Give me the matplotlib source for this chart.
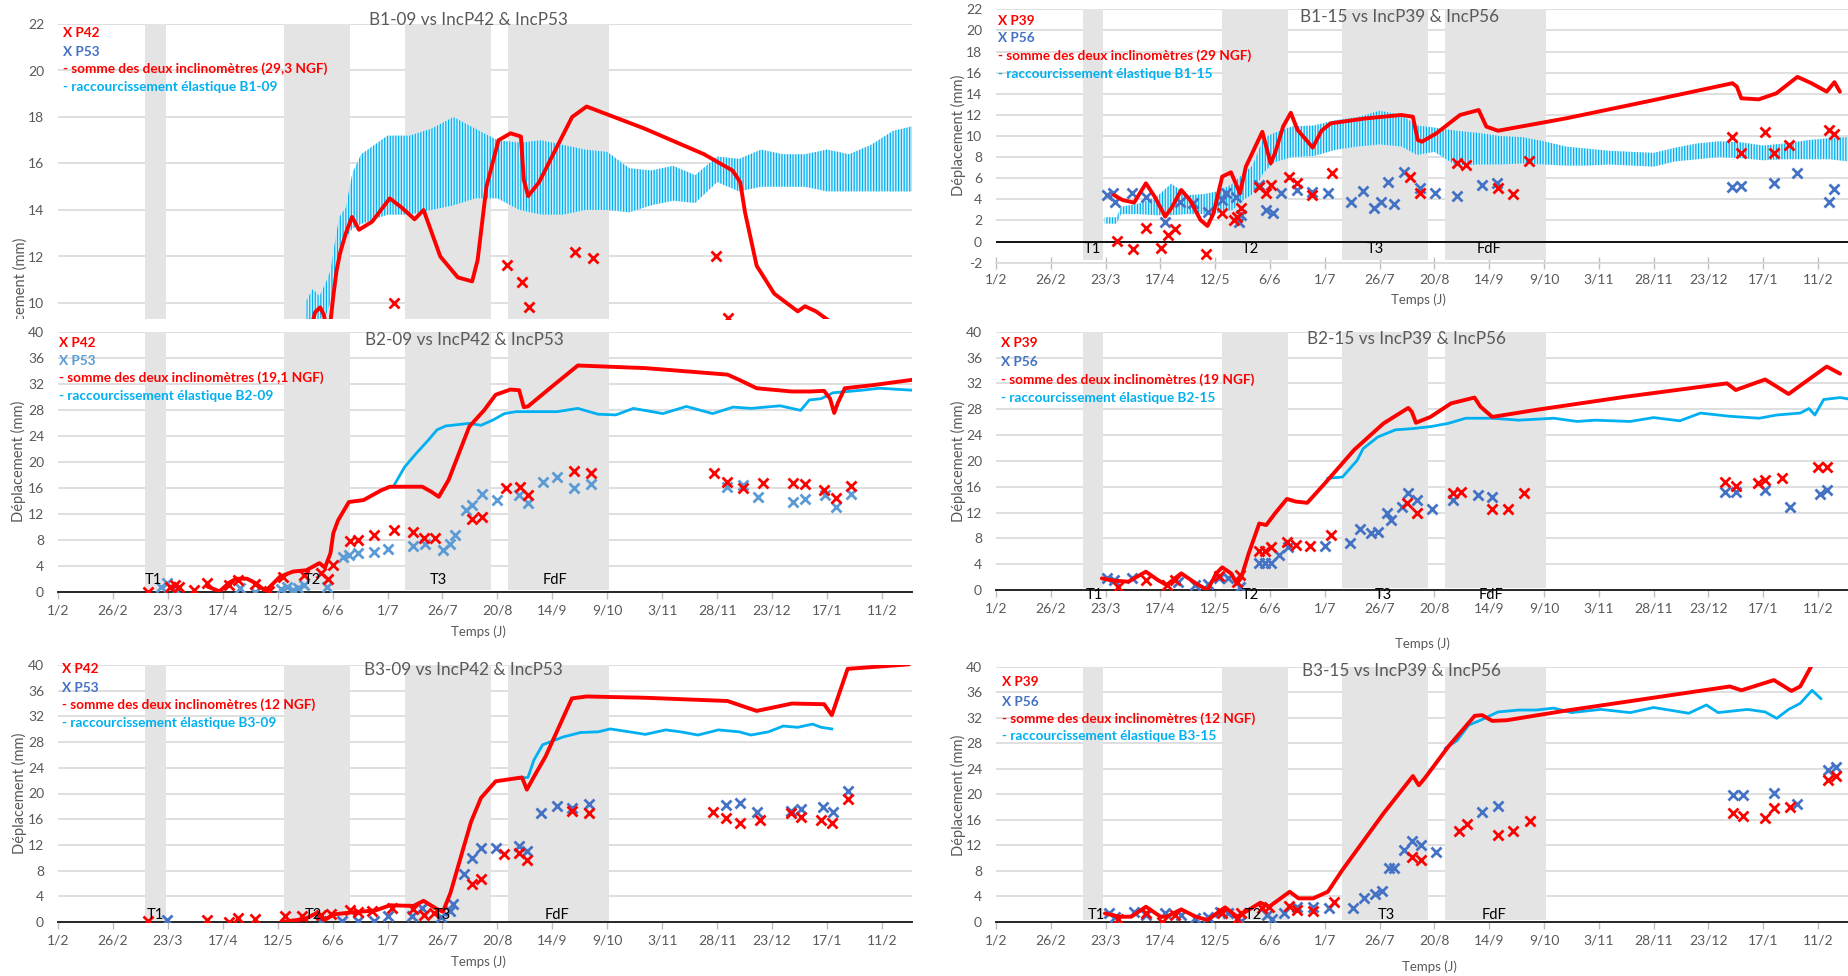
import numpy as np
import matplotlib
matplotlib.use('Agg')
import matplotlib.pyplot as plt
from matplotlib.transforms import Bbox

plt.rcParams['font.family'] = ['Lato', 'DejaVu Sans']
plt.rcParams['hatch.linewidth'] = 0.9

W, H = 1848, 976
fig = plt.figure(figsize=(W / 100, H / 100), dpi=100)

# ---------------- common axis data ----------------
DATE_TICKS = list(range(0, 376, 25))
DATE_LABELS = ['1/2', '26/2', '23/3', '17/4', '12/5', '6/6', '1/7', '26/7', '20/8',
               '14/9', '9/10', '3/11', '28/11', '23/12', '17/1', '11/2']
PERIODS = [(39.5, 49.0), (103.0, 133.0), (158.0, 197.0), (205.0, 251.0)]
PERIOD_NAMES = ['T1', 'T2', 'T3', 'FdF']

# ---------------- B1-09 ----------------
B1_09_SUM_DAY = [115.2, 117, 119.3, 121, 122.3, 123.8, 125.3, 126.8, 128.4, 131, 133.8, 137, 143, 151,
                 156.5, 162.3, 166.4, 174, 182, 188.5, 191, 195, 200.5, 206, 210.7, 212, 214, 219, 227,
                 234, 240.6, 267, 294, 307, 310.5, 312.7, 318, 326, 336.7, 340, 345, 350, 360]
B1_09_SUM_VAL = [8.9, 9.6, 9.81, 9.5, 8.8, 9.0, 10.3, 11.4, 12.15, 13.0, 13.7, 13.15, 13.5, 14.5, 14.1,
                 13.6, 14.0, 12.0, 11.1, 10.93, 11.85, 15.0, 17.0, 17.3, 17.16, 15.3, 14.6, 15.2, 16.7,
                 18.0, 18.45, 17.5, 16.4, 15.7, 15.2, 13.9, 11.6, 10.4, 9.64, 9.86, 9.64, 9.3, 8.6]
B1_09_P42_DAY = [153, 204.5, 211.2, 214.4, 235.2, 243.3, 299.3, 305]
B1_09_P42_VAL = [10.0, 11.62, 10.9, 9.83, 12.2, 11.93, 12.03, 9.36]
B1_09_EL_DAY = [113, 116, 119, 122, 124, 126, 128, 131, 134, 138, 150, 160, 170, 180, 190, 200, 210,
                220, 230, 240, 250, 260, 270, 280, 290, 300, 310, 320, 330, 340, 350, 360, 370, 380, 388.7]
B1_09_EL_LO = [9.3, 9.3, 9.3, 9.5, 10.0, 11.2, 12.0, 12.8, 13.2, 13.4, 13.8, 13.8, 14.0, 14.2, 14.5,
               14.5, 14.0, 13.8, 13.8, 14.0, 14.0, 13.9, 14.2, 14.4, 14.3, 15.2, 14.8, 15.0, 15.0, 15.0,
               14.8, 14.8, 14.8, 14.8, 14.8]
B1_09_EL_HI = [10.1, 10.6, 10.3, 10.9, 11.4, 12.6, 13.7, 14.1, 15.6, 16.4, 17.2, 17.2, 17.5, 18.0, 17.5,
               17.0, 16.9, 17.0, 16.8, 16.6, 16.5, 15.8, 15.7, 15.9, 15.5, 16.3, 16.2, 16.6, 16.4, 16.4,
               16.6, 16.4, 16.8, 17.4, 17.6]

# ---------------- B1-15 ----------------
B1_15_SUM_DAY = [53.8, 57.7, 63.0, 68.4, 72.4, 77.2, 80.4, 84.5, 88.5, 93.3, 96.5, 99.2, 103.2, 107.2,
                 110.0, 111.3, 114.0, 121.5, 125.3, 127.5, 131.0, 134.5, 137.5, 144.5, 148.5, 152.7,
                 168.8, 184.9, 190.2, 192.4, 194.3, 200.9, 211.7, 220.2, 223.7, 229.0, 260.0, 300.0,
                 336.0, 338.0, 340.0, 348.0, 356.0, 365.6, 372.0, 379.0, 382.5, 385.0]
B1_15_SUM_VAL = [4.41, 3.94, 3.69, 5.52, 4.25, 2.36, 3.3, 4.89, 3.94, 2.04, 1.48, 2.67, 6.15, 6.56, 5.2,
                 4.57, 7.1, 10.4, 7.4, 8.5, 10.9, 12.2, 10.6, 8.9, 10.5, 11.2, 11.67, 11.99, 11.83,
                 9.62, 9.46, 10.25, 11.99, 12.46, 10.89, 10.5, 11.67, 13.4, 15.0, 14.67, 13.57, 13.47,
                 14.04, 15.6, 15.0, 14.2, 15.1, 14.2]
B1_15_P39_DAY = [55, 62.5, 68.4, 75.1, 78.3, 81.8, 96, 103.2, 108.6, 110, 112, 120, 123.3, 125.4, 133.5,
                 137.5, 144.2, 153.5, 188.9, 193.4, 210.3, 214.3, 229, 235.7, 243.2, 335.6, 340, 350.8,
                 354.9, 361.6, 380, 382.5]
B1_15_P39_VAL = [0.09, -0.73, 1.32, -0.64, 0.62, 1.16, -1.21, 2.68, 2.04, 2.36, 3.15, 5.2, 4.57, 5.36,
                 6.15, 5.52, 4.41, 6.47, 6.15, 4.63, 7.41, 7.25, 5.04, 4.5, 7.63, 9.94, 8.42, 10.41,
                 8.36, 9.15, 10.57, 10.19]
B1_15_P56_DAY = [50.5, 53.2, 54.2, 62.2, 68.4, 77.2, 83.9, 89.8, 96.5, 103.2, 105, 109.4, 110.7, 112,
                 120, 123.3, 126.5, 130, 137.5, 144.2, 151.4, 162, 167.5, 172.3, 175.5, 179, 181.7,
                 186.2, 193.4, 200.4, 210.3, 221.6, 228.6, 335.6, 340, 354.9, 365.6, 380, 382.5]
B1_15_P56_VAL = [4.41, 4.63, 3.78, 4.63, 4.25, 1.89, 3.78, 3.62, 2.83, 3.94, 4.63, 4.25, 1.89, 2.52,
                 5.36, 2.99, 2.74, 4.57, 4.89, 4.73, 4.63, 3.78, 4.82, 3.15, 3.78, 5.67, 3.56, 6.62,
                 5.04, 4.63, 4.32, 5.36, 5.58, 5.2, 5.27, 5.52, 6.47, 3.78, 4.95]
B1_15_EL_DAY = [49.6, 55, 57, 65, 73, 80, 87, 95, 102, 108, 112, 117, 122, 127, 135, 145, 155, 165, 175,
                185, 192, 200, 210, 220, 230, 240, 250, 260, 270, 280, 290, 300, 310, 320, 330, 340,
                350, 360, 370, 380, 388.7]
B1_15_EL_LO = [1.7, 1.7, 2.6, 2.6, 2.5, 2.5, 2.6, 2.6, 2.7, 3.0, 3.8, 4.5, 6.5, 7.5, 8.0, 8.1, 8.7, 9.0,
               9.2, 9.0, 8.2, 8.5, 7.2, 7.3, 7.3, 7.4, 7.3, 7.2, 7.2, 7.3, 7.2, 7.1, 7.6, 7.8, 8.0, 7.9,
               7.7, 7.8, 7.8, 7.8, 7.6]
B1_15_EL_HI = [2.3, 2.3, 3.3, 3.6, 4.2, 5.5, 4.4, 4.5, 4.8, 5.5, 6.3, 7.2, 9.8, 10.3, 10.9, 11.0, 11.5,
               11.8, 12.4, 12.0, 11.0, 10.8, 10.5, 10.3, 10.0, 9.9, 9.5, 9.0, 8.8, 8.6, 8.5, 8.4, 8.9,
               9.3, 9.5, 9.4, 9.1, 9.3, 9.6, 9.8, 9.9]

# ---------------- B2-09 ----------------
B2_09_SUM_DAY = [68, 73.5, 78, 81, 86, 90, 94.5, 101, 107, 113, 119, 121.5, 124, 125.3, 127.5, 132.4,
                 139.1, 147.1, 151.1, 165.8, 169.8, 173.3, 177.8, 187.2, 193.9, 199.2, 205.9, 209.9,
                 212, 213.9, 224.6, 236.6, 267.3, 304.7, 310, 318, 334, 342, 348.7, 351.4, 353.3,
                 354.9, 358.1, 371.4, 388.8]
B2_09_SUM_VAL = [0.8, 0.05, 1.4, 2.0, 2.0, 1.3, 0.1, 2.3, 3.1, 3.3, 4.4, 3.7, 5.9, 9.0, 11.0, 13.8,
                 14.1, 15.6, 16.15, 16.15, 15.4, 14.6, 17.2, 25.4, 27.9, 30.3, 31.1, 31.0, 28.4, 28.5,
                 31.5, 34.8, 34.4, 33.4, 32.6, 31.3, 30.8, 30.8, 30.9, 29.7, 27.5, 29.0, 31.3, 31.8, 32.6]
B2_09_EL_DAY = [153, 157.8, 163.1, 168.5, 172.5, 176.5, 187.2, 192.5, 197.9, 203.2, 208.5, 227.2, 236.6,
                245.9, 253.9, 261.9, 275.3, 286, 298, 307.3, 315.4, 328.7, 338, 342, 347.4, 352.7, 366,
                374, 388.8]
B2_09_EL_VAL = [16.4, 19.2, 21.3, 23.3, 24.9, 25.5, 25.9, 25.6, 26.4, 27.4, 27.7, 27.7, 28.2, 27.3, 27.2,
                28.2, 27.4, 28.5, 27.4, 28.4, 28.2, 28.6, 27.9, 29.5, 29.7, 30.6, 31.0, 31.3, 31.0]
B2_09_P42_DAY = [40.9, 51, 53.1, 55, 61.7, 67.6, 77.7, 81.7, 89.7, 95.9, 102.5, 111.9, 119.6, 123.1, 125,
                 132.7, 136.5, 143.9, 153, 161.8, 166.6, 171.7, 188.5, 193.1, 203.7, 210.4, 213.9, 234.7,
                 242.7, 298.5, 304.7, 311.9, 320.7, 334.6, 339.9, 348.7, 354, 360.8]
B2_09_P42_VAL = [0, 0.77, 1.03, 0.77, 0.26, 1.28, 1.03, 1.8, 1.18, 0.15, 2.31, 2.56, 2.92, 1.9, 4.1, 7.85,
                 7.95, 8.72, 9.49, 9.23, 8.2, 8.2, 11.13, 11.54, 15.9, 16.15, 14.87, 18.56, 18.2, 18.2,
                 16.9, 15.9, 16.7, 16.8, 16.5, 15.6, 14.4, 16.3]
B2_09_P53_DAY = [47, 49.7, 53.7, 83, 89.7, 101.7, 104.4, 107, 109.2, 112, 122.6, 129.8, 132.4, 136.4, 144,
                 150.3, 161.8, 167.2, 175.2, 178.6, 180.5, 185.8, 188.5, 193, 199.7, 209.9, 213.9, 220.6,
                 227.2, 234.7, 242.7, 304.7, 311.9, 318.6, 334.6, 339.9, 349.3, 354, 360.8]
B2_09_P53_VAL = [0.77, 1.28, 0.26, 0.5, 0, 0.36, 0.77, 0.26, 0.51, 1.03, 0.77, 5.38, 5.64, 5.9, 6.05, 6.5,
                 7.0, 7.3, 6.4, 7.4, 8.7, 12.56, 13.3, 15.0, 14.1, 14.9, 13.7, 16.9, 17.6, 16.0, 16.5,
                 16.15, 16.4, 14.5, 13.85, 14.2, 14.9, 13.1, 15.1]

# ---------------- B2-15 ----------------
B2_15_SUM_DAY = [48.3, 53.7, 60.4, 68.4, 73.8, 77.8, 84.5, 91.2, 96.5, 100.5, 103.2, 107.2, 109.9, 112,
                 115.3, 120.1, 123.3, 127.3, 132.7, 136.7, 142, 150, 163.4, 176.8, 188.1, 189.7, 191.6,
                 198.2, 207.6, 218.3, 221, 226.4, 246.5, 286.6, 333.5, 337.5, 350.9, 361.6, 368.3, 379,
                 385.1]
B2_15_SUM_VAL = [1.8, 1.45, 1.29, 2.84, 1.55, 0.77, 2.58, 1.03, 0, 2.58, 3.51, 2.58, 1.03, 2.06, 5.68,
                 10.3, 10.06, 11.87, 14.1, 13.7, 13.5, 16.5, 21.7, 25.8, 28.2, 27.6, 25.9, 26.8, 28.9,
                 29.8, 28.4, 26.8, 27.9, 29.9, 32.0, 30.97, 32.6, 30.35, 32.0, 34.6, 33.5]
B2_15_EL_DAY = [151.4, 158.1, 164.8, 167.5, 174.2, 182.2, 190.2, 198.2, 206.3, 214.3, 226.4, 238.4,
                254.5, 265.2, 273.2, 289.3, 300, 312, 321.4, 334.8, 348.2, 356.2, 366.9, 370.9, 373.6,
                377.6, 385.1, 388.7]
B2_15_EL_VAL = [17.3, 17.5, 20.1, 21.9, 23.7, 24.8, 25.0, 25.3, 25.8, 26.6, 26.6, 26.3, 26.6, 26.1, 26.3,
                26.1, 26.7, 26.2, 27.4, 26.9, 26.6, 27.1, 27.4, 28.1, 27.1, 29.5, 29.8, 29.6]
B2_15_P39_DAY = [55.8, 68.4, 77.8, 81.8, 101.9, 109.9, 111.2, 120.1, 122.8, 125.4, 132.7, 136.7, 143.4,
                 152.7, 187.5, 192.1, 208.4, 212.2, 226.4, 233.6, 241.1, 332.7, 337.5, 347.7, 350.9,
                 358.4, 375, 379]
B2_15_P39_VAL = [0.5, 1.55, 0.77, 1.55, 2.17, 1.29, 2.32, 6.1, 6.1, 6.7, 7.5, 6.97, 6.8, 8.5, 13.4, 12.0,
                 15.0, 15.1, 12.6, 12.6, 15.0, 16.8, 16.1, 16.6, 17.1, 17.3, 19.1, 19.1]
B2_15_P56_DAY = [50.5, 53.7, 62.2, 83, 90.6, 96.5, 101.9, 106, 111.2, 120.1, 122.8, 125.4, 129.2, 133.4,
                 150, 161.3, 166.1, 170.9, 174.2, 178.2, 180, 185.4, 188.1, 192.1, 198.8, 208.4, 219.7,
                 226.4, 332.7, 337.5, 350.9, 362.1, 375.8, 379]
B2_15_P56_VAL = [1.8, 1.55, 1.8, 1.29, 0.77, 0.93, 1.8, 1.8, 0.5, 4.2, 4.2, 4.2, 5.4, 6.6, 6.8, 7.3, 9.4,
                 8.8, 9.0, 12.0, 10.8, 12.9, 15.0, 13.9, 12.5, 13.9, 14.7, 14.45, 15.2, 15.1, 15.5, 12.9,
                 14.9, 15.5]

# ---------------- B3-09 ----------------
B3_09_SUM_DAY = [101.7, 112.4, 117.8, 121, 125.8, 133.8, 144.5, 151.1, 161.8, 166.4, 172.5, 175.2,
                 178.6, 182.4, 188.0, 192.5, 199.2, 211.2, 213.4, 216.6, 221.9, 233.9, 240.6, 267.3,
                 304.7, 318, 334, 348.7, 352.2, 359.4, 387.3]
B3_09_SUM_VAL = [0, 0.47, 1.4, 0.3, 1.2, 1.5, 1.8, 2.6, 2.5, 3.3, 2.0, 1.6, 4.5, 9.0, 15.6, 19.3, 21.9,
                 22.5, 20.6, 22.6, 25.75, 34.8, 35.1, 34.9, 34.4, 32.85, 34.0, 33.9, 32.2, 39.4, 40.1]
B3_09_EL_DAY = [209.9, 213.9, 216.6, 220.6, 224.6, 229.9, 237.9, 245.9, 251.3, 261.9, 267.3, 276.6,
                283.3, 291.3, 300.6, 310, 315.4, 323.4, 330.1, 336.7, 343.4, 347.4, 352.2]
B3_09_EL_VAL = [22.4, 22.5, 25.2, 27.6, 28.1, 28.8, 29.5, 29.6, 30.05, 29.5, 29.2, 29.9, 29.6, 29.1,
                29.9, 29.6, 29.1, 29.6, 30.5, 30.3, 30.8, 30.3, 30.05]
B3_09_P42_DAY = [41.1, 67.6, 77.7, 81.7, 89.7, 103.1, 111.1, 119.6, 124.4, 133, 136.5, 143.1, 151.9,
                 161.8, 166.4, 171.2, 188.5, 192.5, 203.2, 209.9, 213.4, 233.9, 241.9, 298, 303.9, 310.5,
                 319.4, 333.5, 338.1, 347.4, 352.2, 359.4]
B3_09_P42_VAL = [0.1, 0.26, 0, 0.62, 0.47, 0.88, 0.88, 1.14, 1.24, 1.81, 1.5, 1.66, 2.18, 2.0, 1.14, 1.4,
                 5.9, 6.7, 10.6, 10.7, 9.7, 17.2, 17.0, 17.1, 16.2, 15.4, 15.9, 16.9, 16.3, 15.9, 15.4,
                 19.2]
B3_09_P53_DAY = [49.7, 119.6, 129.2, 136.5, 143.7, 150.3, 161.3, 165.8, 174.4, 178.6, 180, 185, 188.5,
                 192.5, 199.2, 209.9, 213.4, 219.8, 227.2, 233.9, 241.9, 303.9, 310.5, 318, 333.5, 338.1,
                 348.2, 352.7, 359.4]
B3_09_P53_VAL = [0.36, 0.1, 0.1, 0.1, 0.1, 0.88, 0.88, 2.18, 0.73, 1.66, 2.85, 7.5, 9.95, 11.5, 11.5,
                 11.76, 11.0, 16.9, 18.1, 17.8, 18.3, 18.2, 18.5, 17.1, 17.3, 17.6, 17.9, 17.1, 20.4]

# ---------------- B3-15 ----------------
B3_15_SUM_DAY = [49.7, 56.4, 61.7, 68.4, 75.1, 77.8, 84.5, 91.2, 96.5, 104.5, 110, 113.9, 120.6, 124.6,
                 134, 138, 144.7, 151.4, 158, 176.8, 190.2, 192.9, 195.6, 206.3, 218.4, 221.8, 226.4,
                 233, 259.8, 334.8, 340.1, 354.9, 362.9, 366.9, 372.3]
B3_15_SUM_VAL = [1.3, 0.78, 0.78, 2.35, 0.78, 0.78, 1.93, 0.78, 0.26, 2.25, 0.78, 1.57, 2.98, 2.35, 4.7,
                 3.66, 3.66, 4.7, 8.1, 17.0, 22.85, 21.4, 22.5, 27.45, 32.3, 32.4, 31.5, 31.6, 33.1, 36.9,
                 36.3, 37.9, 36.2, 36.9, 40.3]
B3_15_EL_DAY = [205, 210.3, 215.7, 221, 229, 238.4, 246.4, 254.5, 262.5, 275.9, 289.3, 300, 316.1, 324.1,
                329.4, 342.9, 350.9, 356.2, 361.6, 366.9, 372.3, 376.3]
B3_15_EL_VAL = [27.2, 28.4, 30.85, 31.6, 32.9, 33.2, 33.2, 33.5, 32.8, 33.3, 32.8, 33.6, 32.7, 34.0, 32.8,
                33.3, 32.9, 31.9, 33.3, 34.25, 36.3, 35.0]
B3_15_P39_DAY = [55.8, 68.4, 75.6, 81.8, 103.2, 110, 112, 121.2, 124.6, 133.5, 137.5, 144.7, 154.1,
                 189.7, 193.7, 211.1, 214.9, 229, 235.7, 243.8, 336.1, 340.9, 350.9, 354.9, 362.1, 379.8,
                 383]
B3_15_P39_VAL = [0.5, 1.3, 0, 1.05, 1.3, 0.37, 1.3, 2.1, 2.35, 2.46, 1.83, 1.67, 3.14, 10.2, 9.7, 14.3,
                 15.3, 13.6, 14.3, 15.8, 17.0, 16.6, 16.2, 17.8, 18.0, 22.3, 22.85]
B3_15_P56_DAY = [51.5, 54.2, 63, 68.4, 77.2, 84.5, 90.6, 96.5, 102.4, 105.9, 112, 123.8, 126, 131.3,
                 137.5, 144.7, 151.9, 162.9, 168, 172.8, 176, 179.5, 181.7, 186.2, 189.7, 193.7, 200.9,
                 221.8, 229, 336.1, 340.9, 354.9, 365.6, 379.8, 383]
B3_15_P56_VAL = [1.3, 0.78, 1.57, 1.05, 1.3, 1.05, 0.52, 0.78, 1.57, 1.3, 0.16, 1.05, 0.37, 1.3, 2.25,
                 2.35, 2.2, 2.2, 3.66, 4.3, 4.86, 8.5, 8.5, 11.24, 12.65, 12.0, 11.0, 17.25, 18.1, 19.8,
                 19.9, 20.2, 18.5, 23.8, 24.2]

# ---------------- styling ----------------
RED = '#FF0000'
CYAN = '#00B0F0'
BLUE = '#4472C4'
BLUE2 = '#5B9BD5'
TXT = '#595959'
GRID = '#D9D9D9'
BAND = '#E4E4E4'
XMAX = 388.7


def ftext(x, y, s, **kw):
    return fig.text(x / W, 1 - y / H, s, **kw)


def panel(left, right, top, bottom, ymin, ymax, yticks, band_min, kind):
    ax = fig.add_axes([left / W, 1 - bottom / H, (right - left) / W, (bottom - top) / H])
    ax.set_facecolor('white')
    ax.set_xlim(0, XMAX)
    ax.set_ylim(ymin, ymax)
    ax.set_yticks(yticks)
    ax.set_yticklabels([f'{v:g}' for v in yticks])
    ax.yaxis.grid(True, color=GRID, lw=1.2)
    ax.set_axisbelow(True)
    for s in ('top', 'right', 'left'):
        ax.spines[s].set_visible(False)
    ax.tick_params(axis='y', length=0, pad=10, labelsize=10, labelcolor=TXT)
    ax.set_xticks(DATE_TICKS)
    ax.set_xticklabels(DATE_LABELS)
    ax.tick_params(axis='x', direction='out', length=5, width=1, color='#BFBFBF', pad=4,
                   labelsize=10, labelcolor=TXT)
    if kind == 'hidden':
        ax.spines['bottom'].set_visible(False)
        ax.tick_params(axis='x', bottom=False, labelbottom=False)
    elif kind == 'neg':
        ax.spines['bottom'].set_color(GRID)
        ax.spines['bottom'].set_linewidth(1.2)
        ax.axhline(0, color='black', lw=1.3, zorder=2)
        ax.tick_params(axis='x', direction='inout', length=8)
    else:
        ax.spines['bottom'].set_color('#262626')
        ax.spines['bottom'].set_linewidth(1.4)
    frac = (band_min - ymin) / (ymax - ymin)
    for a, b in PERIODS:
        ax.axvspan(a, b, ymin=frac, ymax=1, color=BAND, lw=0, zorder=1)
    return ax


def period_labels(ax, days, y):
    for d, name in zip(days, PERIOD_NAMES):
        ax.text(d, y, name, ha='center', va='center', fontsize=10.5, color='black', zorder=7)


def markers(ax, days, vals, color):
    ax.plot(days, vals, ls='none', marker='x', ms=7, mew=2.0, color=color, zorder=4)


def sum_line(ax, days, vals):
    ax.plot(days, vals, color=RED, lw=2.8, zorder=5, solid_joinstyle='round', solid_capstyle='round')


def elastic_line(ax, days, vals):
    ax.plot(days, vals, color=CYAN, lw=2.0, zorder=3)


def elastic_band(ax, days, lo, hi):
    ax.fill_between(days, lo, hi, facecolor='#D2F1FC', edgecolor=CYAN, hatch='||||||', lw=0, zorder=3)


def legend(x, ys, blue, p1, p2, ngf, name):
    kw = dict(fontsize=9.8, fontweight='bold', va='center', ha='left')
    ftext(x, ys[0], 'X ' + p1, color=RED, **kw)
    ftext(x, ys[1], 'X ' + p2, color=blue, **kw)
    ftext(x, ys[2], '- somme des deux inclinomètres (' + ngf + ' NGF)', color=RED, **kw)
    ftext(x, ys[3], '- raccourcissement élastique ' + name, color=CYAN, **kw)


def title(x, y, s):
    ftext(x, y, s, color=TXT, fontsize=12.3, ha='center', va='center')


def ylab(x, y):
    return ftext(x, y, 'Déplacement (mm)', color=TXT, fontsize=10.5, rotation=90, ha='center',
                 va='center')


def xlab(x, y):
    ftext(x, y, 'Temps (J)', color=TXT, fontsize=9.5, ha='center', va='center')


# ===== B1-09 (top left, partly hidden) =====
ax = panel(58, 912, 24, 319, 22 - 295 / 23.25, 22, list(range(10, 23, 2)), 0, 'hidden')
elastic_band(ax, B1_09_EL_DAY, B1_09_EL_LO, B1_09_EL_HI)
markers(ax, B1_09_P42_DAY, B1_09_P42_VAL, RED)
sum_line(ax, B1_09_SUM_DAY, B1_09_SUM_VAL)
title(468, 20, 'B1-09 vs IncP42 & IncP53')
legend(63, [33, 52, 69, 87], BLUE, 'P42', 'P53', '29,3', 'B1-09')
t = ylab(20, 298)
t.set_clip_box(Bbox.from_extents(0, H - 319, 60, H))
t.set_clip_on(True)

# ===== B1-15 (top right) =====
ax = panel(996, 1848, 9.3, 262.7, -2, 22, list(range(-2, 23, 2)), -1.75, 'neg')
elastic_band(ax, B1_15_EL_DAY, B1_15_EL_LO, B1_15_EL_HI)
markers(ax, B1_15_P56_DAY, B1_15_P56_VAL, BLUE)
markers(ax, B1_15_P39_DAY, B1_15_P39_VAL, RED)
sum_line(ax, B1_15_SUM_DAY, B1_15_SUM_VAL)
period_labels(ax, [44, 116, 173, 225], -0.7)
title(1400, 17, 'B1-15 vs IncP39 & IncP56')
legend(998, [20.7, 37.7, 55.7, 73.7], BLUE, 'P39', 'P56', '29', 'B1-15')
ylab(958, 135)
xlab(1418, 300)

# ===== B2-09 (middle left) =====
ax = panel(58, 912, 331.7, 591.7, 0, 40, list(range(0, 41, 4)), 0.3, 'zero')
elastic_line(ax, B2_09_EL_DAY, B2_09_EL_VAL)
markers(ax, B2_09_P53_DAY, B2_09_P53_VAL, BLUE2)
markers(ax, B2_09_P42_DAY, B2_09_P42_VAL, RED)
sum_line(ax, B2_09_SUM_DAY, B2_09_SUM_VAL)
period_labels(ax, [43.6, 115.8, 173, 226], 1.8)
title(464, 340, 'B2-09 vs IncP42 & IncP53')
legend(59, [342.7, 360.7, 377.7, 396], BLUE2, 'P42', 'P53', '19,1', 'B2-09')
ylab(18, 461.7)
xlab(478, 632)

# ===== B2-15 (middle right) =====
ax = panel(996, 1848, 331.7, 590, 0, 40, list(range(0, 41, 4)), 0.35, 'zero')
elastic_line(ax, B2_15_EL_DAY, B2_15_EL_VAL)
markers(ax, B2_15_P56_DAY, B2_15_P56_VAL, BLUE)
markers(ax, B2_15_P39_DAY, B2_15_P39_VAL, RED)
sum_line(ax, B2_15_SUM_DAY, B2_15_SUM_VAL)
period_labels(ax, [44.8, 116, 176.8, 226], -0.8)
title(1406, 339, 'B2-15 vs IncP39 & IncP56')
legend(1001, [343.3, 361.7, 380, 397.7], BLUE, 'P39', 'P56', '19', 'B2-15')
ylab(958, 461.7)
xlab(1422, 644)

# ===== B3-09 (bottom left) =====
ax = panel(58, 912, 665, 922, 0, 40, list(range(0, 41, 4)), 0.1, 'zero')
elastic_line(ax, B3_09_EL_DAY, B3_09_EL_VAL)
markers(ax, B3_09_P53_DAY, B3_09_P53_VAL, BLUE)
markers(ax, B3_09_P42_DAY, B3_09_P42_VAL, RED)
sum_line(ax, B3_09_SUM_DAY, B3_09_SUM_VAL)
period_labels(ax, [44.3, 116.4, 175, 227], 1.05)
title(463, 670, 'B3-09 vs IncP42 & IncP53')
legend(62, [669, 687.7, 705, 722.7], BLUE, 'P42', 'P53', '12', 'B3-09')
ylab(19, 793)
xlab(478, 962)

# ===== B3-15 (bottom right) =====
ax = panel(996, 1848, 666.7, 921.7, 0, 40, list(range(0, 41, 4)), 0.25, 'zero')
elastic_line(ax, B3_15_EL_DAY, B3_15_EL_VAL)
markers(ax, B3_15_P56_DAY, B3_15_P56_VAL, BLUE)
markers(ax, B3_15_P39_DAY, B3_15_P39_VAL, RED)
sum_line(ax, B3_15_SUM_DAY, B3_15_SUM_VAL)
period_labels(ax, [45.6, 117.4, 178.2, 227.2], 1.05)
title(1401, 671, 'B3-15 vs IncP39 & IncP56')
legend(1002, [682.3, 701.7, 719, 736], BLUE, 'P39', 'P56', '12', 'B3-15')
ylab(958, 795)
xlab(1429, 966.7)

fig.savefig('out.png', dpi=100, facecolor='white')
